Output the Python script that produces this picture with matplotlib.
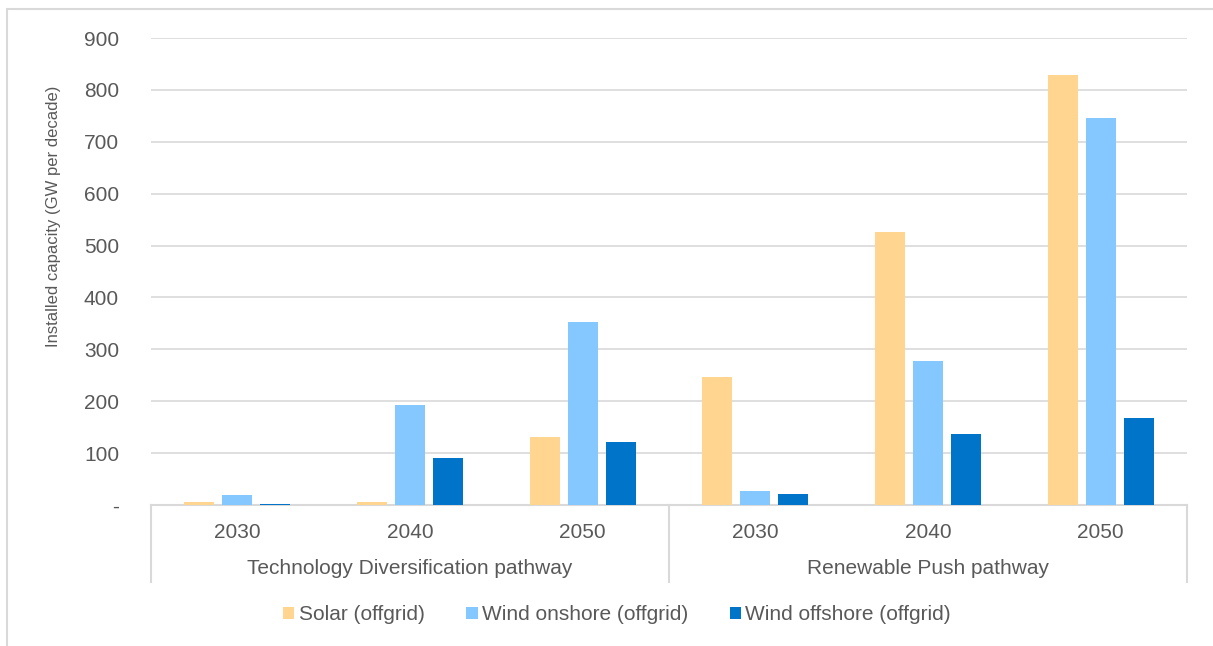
import numpy as np
import matplotlib.pyplot as plt
from matplotlib.patches import Rectangle

# data
years = ["2030", "2040", "2050", "2030", "2040", "2050"]
pathways = ["Technology Diversification pathway", "Renewable Push pathway"]
series = ["Solar (offgrid)", "Wind onshore (offgrid)", "Wind offshore (offgrid)"]
solar = [5, 5, 131, 247, 526, 829]
onshore = [19, 193, 353, 27, 277, 746]
offshore = [1, 91, 121, 21, 137, 168]
yticks = [0, 100, 200, 300, 400, 500, 600, 700, 800, 900]
ytick_labels = ["-", "100", "200", "300", "400", "500", "600", "700", "800", "900"]

colors = ["#FFD58F", "#85C8FF", "#0074C8"]
text_col = "#595959"
grid_col = "#D9D9D9"

plt.rcParams["font.family"] = ["Liberation Sans", "DejaVu Sans"]

W, H = 1213, 646
fig = plt.figure(figsize=(W / 100, H / 100), dpi=100)

# axes placed in pixel terms of the reference
left, right, top, bottom = 151, 1187, 38, 505
ax = fig.add_axes([left / W, 1 - bottom / H, (right - left) / W, (bottom - top) / H])

x = np.arange(len(years))
width = 0.175
step = 0.22
for j, (vals, name) in enumerate(zip([solar, onshore, offshore], series)):
    ax.bar(x + (j - 1) * step, vals, width, color=colors[j], label=name, zorder=3)

ax.set_xlim(-0.5, len(years) - 0.5)
ax.set_ylim(0, 900)
ax.set_yticks(yticks)
ax.set_yticklabels(ytick_labels)
ax.set_xticks([])
ax.tick_params(axis="y", length=0, pad=23, labelsize=15, labelcolor=text_col)
ax.yaxis.grid(True, color=grid_col, linewidth=1.2, zorder=0)
for s in ["top", "right", "left"]:
    ax.spines[s].set_visible(False)
ax.spines["bottom"].set_color(grid_col)
ax.spines["bottom"].set_linewidth(1.5)

# y title sits higher than the axes centre in the reference
fig.text(54 / W, 1 - 216 / H, "Installed capacity (GW per decade)", rotation=90,
         ha="center", va="center", fontsize=12, color=text_col)

# multi-level category axis
h_ax = bottom - top
box_bottom = -(582 - bottom) / h_ax
for xv in [0, 0.5, 1]:
    ax.plot([xv, xv], [0, box_bottom], transform=ax.transAxes, color=grid_col,
            linewidth=1.5, clip_on=False)
yr_y = -(532 - bottom) / h_ax
pw_y = -(569 - bottom) / h_ax
for i, yr in enumerate(years):
    ax.text((i + 0.5) / len(years), yr_y, yr, transform=ax.transAxes, ha="center",
            va="center", fontsize=15, color=text_col)
for k, pw in enumerate(pathways):
    ax.text(0.25 + 0.5 * k, pw_y, pw, transform=ax.transAxes, ha="center",
            va="center", fontsize=15, color=text_col)

fig.legend(loc="center", bbox_to_anchor=(617 / W, 1 - 615 / H), ncol=3, frameon=False,
           fontsize=15, labelcolor=text_col, handlelength=0.55, handleheight=0.55,
           handletextpad=0.2, columnspacing=2.0)

# chart outline
fig.patches.append(Rectangle((7 / W, -0.05), 1.1, 1 - 9 / H + 0.05, transform=fig.transFigure,
                             fill=False, edgecolor=grid_col, linewidth=1.5))

fig.savefig("out.png", dpi=100)
